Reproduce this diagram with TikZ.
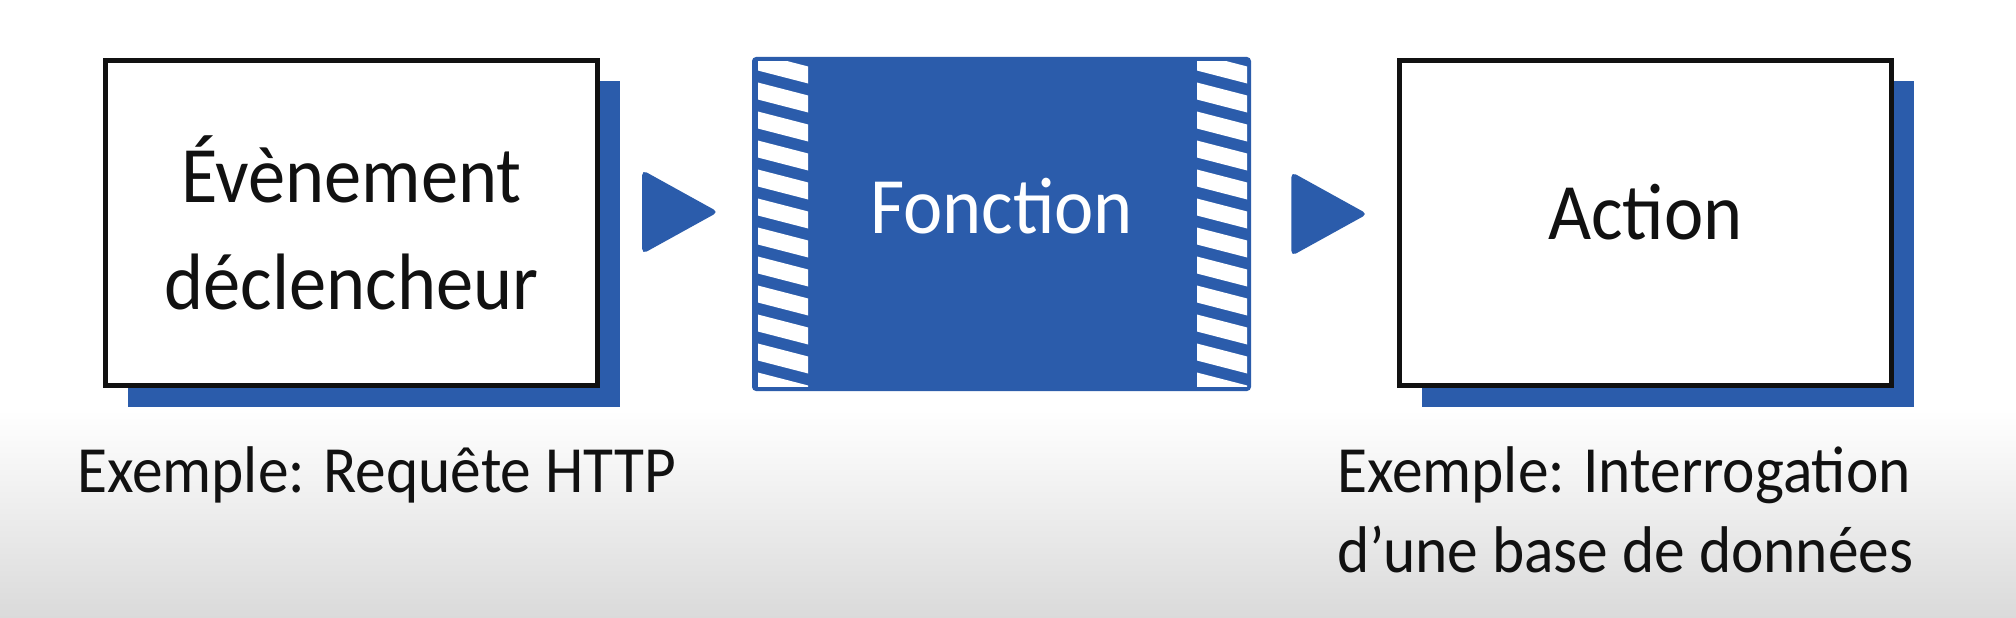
\documentclass[tikz,border=0pt]{standalone}
\usepackage{fontspec}
\newfontfamily\handfont[FakeStretch=0.93]{Carlito}
\usetikzlibrary{shapes.geometric,shadows,calc}
\definecolor{fblue}{HTML}{2B5CAB}
\definecolor{ink}{HTML}{111111}
\definecolor{floor}{HTML}{DADADA}
\tikzset{
  paperbox/.style={draw=ink,line width=5pt,fill=white,minimum width=492pt,minimum height=325pt,
    align=center,text=ink,font=\handfont\fontsize{80}{107}\selectfont,
    drop shadow={shadow xshift=22pt,shadow yshift=-21pt,fill=fblue,opacity=1}},
  funcbox/.style={fill=fblue,rounded corners=4pt,minimum width=499pt,minimum height=334pt,
    text=white,font=\handfont\fontsize{80}{107}\selectfont},
  tri/.style={isosceles triangle,isosceles triangle stretches,fill=fblue,rounded corners=5pt,
    minimum width=84pt,minimum height=76pt,inner sep=0pt,anchor=west},
  note/.style={text=ink,align=left,inner sep=0pt,font=\handfont\fontsize{66}{80}\selectfont}
}
\begin{document}
\begin{tikzpicture}[x=1pt,y=-1pt]
  \useasboundingbox (0,0) rectangle (2016,618);
  \fill[white] (0,0) rectangle (2016,618);
  \shade[top color=white,bottom color=floor] (0,410) rectangle (2016,618);
  \node[paperbox] (event) at (351.5,223) {Évènement\\déclencheur};
  \node[funcbox,text depth=36pt] (fonc) at (1001.5,224) {Fonction};
  \node[paperbox,text depth=22pt] (action) at (1645.5,223) {Action};
  \foreach \sx in {758,1197} {
    \begin{scope}
      \clip (\sx,62) rectangle ++(50,324);
      \foreach \k in {-1,...,12}
        \fill[white] (\sx-6,52+\k*29) -- ++(62,16) -- ++(0,17) -- ++(-62,-16) -- cycle;
    \end{scope}
  }
  \node[tri] (arr1) at ([shift={(42,-11)}]event.east) {};
  \node[tri] (arr2) at ([shift={(40,-10)}]fonc.east) {};
  \node[note,anchor=base west] (ex1) at (77,492) {Exemple: Requête HTTP};
  \node[note,anchor=base west] (ex2) at (1337,572) {Exemple: Interrogation\\d’une base de données};
\end{tikzpicture}
\end{document}
